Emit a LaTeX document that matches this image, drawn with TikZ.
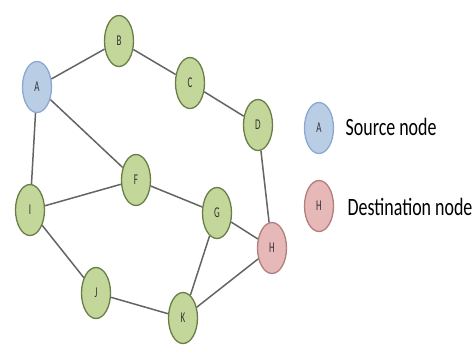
\documentclass[tikz,border=0pt]{standalone}
\usepackage{fontspec}
\setmainfont{Carlito}
\newfontfamily\estrecha[FakeStretch=0.6]{Carlito}
\newfontfamily\leyenda[FakeStretch=0.72]{Carlito}
\usetikzlibrary{shapes.geometric}
\definecolor{verde}{RGB}{196,215,155}
\definecolor{verdeborde}{RGB}{105,125,70}
\definecolor{azul}{RGB}{185,205,229}
\definecolor{azulborde}{RGB}{140,168,208}
\definecolor{rosa}{RGB}{230,185,184}
\definecolor{rosaborde}{RGB}{180,125,125}
\definecolor{gris}{RGB}{100,100,100}

\begin{document}
\begin{tikzpicture}[x=1bp, y=-1bp,
    every node/.style={ellipse, draw=verdeborde, fill=verde, line width=1.3bp,
      minimum width=29bp, minimum height=51bp, inner sep=0pt,
      font=\estrecha\fontsize{15}{15}\selectfont, text=black!80},
    fuente/.style={draw=azulborde, fill=azul},
    destino/.style={draw=rosaborde, fill=rosa},
    texto/.style={draw=none, fill=none, rectangle, minimum width=0pt,
      minimum height=0pt, anchor=base west,
      font=\leyenda\fontsize{25}{25}\selectfont, text=black}]
            \useasboundingbox (0,0) rectangle (473,345);

            % Nodos
            \node[fuente] (a) at (37,87) {A};
            \node (b) at (119,41) {B};
            \node (c) at (190,83) {C};
            \node (d) at (258,125) {D};
            \node (f) at (136,180) {F};
            \node (g) at (217,213) {G};
            \node[destino] (h) at (272,248) {H};
            \node (i) at (30,210) {I};
            \node (j) at (96,293) {J};
            \node (k) at (183,318) {K};

            % Aristas
            \draw[gris, line width=1.5bp] (a) -- (b);
            \draw[gris, line width=1.5bp] (b) -- (c);
            \draw[gris, line width=1.5bp] (c) -- (d);
            \draw[gris, line width=1.5bp] (d) -- (h);
            \draw[gris, line width=1.5bp] (a) -- (f);
            \draw[gris, line width=1.5bp] (a) -- (i);
            \draw[gris, line width=1.5bp] (i) -- (f);
            \draw[gris, line width=1.5bp] (i) -- (j);
            \draw[gris, line width=1.5bp] (j) -- (k);
            \draw[gris, line width=1.5bp] (f) -- (g);
            \draw[gris, line width=1.5bp] (g) -- (h);
            \draw[gris, line width=1.5bp] (g) -- (k);
            \draw[gris, line width=1.5bp] (k) -- (h);

            % Leyenda
            \node[fuente] (lfuente) at (319,128) {A};
            \node[destino] (ldestino) at (319,206) {H};
            \node[texto] (tfuente) at (345,135) {Source node};
            \node[texto] (tdestino) at (347,215) {Destination node};
          \end{tikzpicture}
\end{document}
